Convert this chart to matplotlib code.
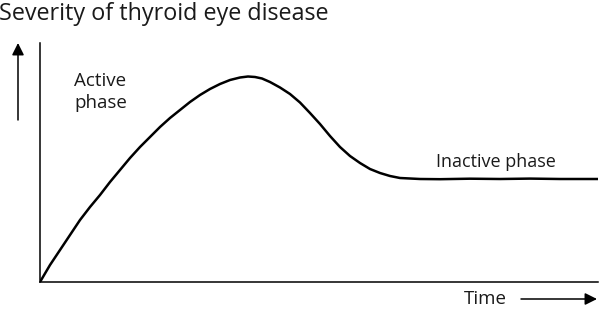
import matplotlib.pyplot as plt
from matplotlib.patches import FancyArrowPatch

# severity curve (time, severity in arbitrary units)
time = [0, 10, 20, 30, 40, 50, 60, 70, 80, 90, 100, 110, 120, 130, 140, 150, 160,
        170, 180, 190, 200, 208, 215, 222, 230, 240, 250, 260, 270, 280, 290, 300,
        310, 320, 330, 340, 350, 360, 380, 400, 430, 460, 490, 520, 558]
severity = [0, 17, 32, 47, 62, 75, 87, 100, 112, 124, 135, 145, 155, 164, 172, 180, 187,
            193, 198, 202, 204.5, 205.5, 205, 203.5, 200, 194.5, 188, 179.5, 169, 158, 146,
            135, 126, 119, 113, 109, 106, 104, 103, 102.8, 103.3, 103, 103.4, 103, 103]

title = 'Severity of thyroid eye disease'
active_label = 'Active\nphase'
inactive_label = 'Inactive phase'
x_label = 'Time'

plt.rcParams['font.family'] = ['Open Sans', 'DejaVu Sans']

fig = plt.figure(figsize=(6, 3.11), dpi=100)
W, H = 600, 311
ax = fig.add_axes([40 / W, (H - 282) / H, 558 / W, (282 - 43) / H])
ax.plot(time, severity, color='black', lw=1.8, solid_capstyle='round', solid_joinstyle='round')
ax.set_xlim(0, 558)
ax.set_ylim(0, 239)
for s in ['top', 'right']:
    ax.spines[s].set_visible(False)
for s in ['left', 'bottom']:
    ax.spines[s].set_linewidth(1.1)
ax.set_xticks([])
ax.set_yticks([])

# labels and arrows placed in pixel coords of the figure
def fx(px):
    return px / W

def fy(py):
    return (H - py) / H

txt = dict(va='center', ha='left', color='#1a1a1a')
fig.text(fx(-1), fy(14), title, fontsize=16.8, **txt)
fig.text(fx(74), fy(92), active_label, fontsize=13.5, linespacing=1.3, **txt)
fig.text(fx(436), fy(162), inactive_label, fontsize=13, **txt)
fig.text(fx(464), fy(299), x_label, fontsize=13.5, **txt)

arrow = dict(arrowstyle='-|>', color='black', lw=1.1, mutation_scale=18, shrinkA=0, shrinkB=0)
fig.add_artist(FancyArrowPatch((fx(18), fy(120)), (fx(18), fy(43)),
                               transform=fig.transFigure, **arrow))
fig.add_artist(FancyArrowPatch((fx(521), fy(299)), (fx(597), fy(299)),
                               transform=fig.transFigure, **arrow))

fig.savefig('out.png', dpi=100)
